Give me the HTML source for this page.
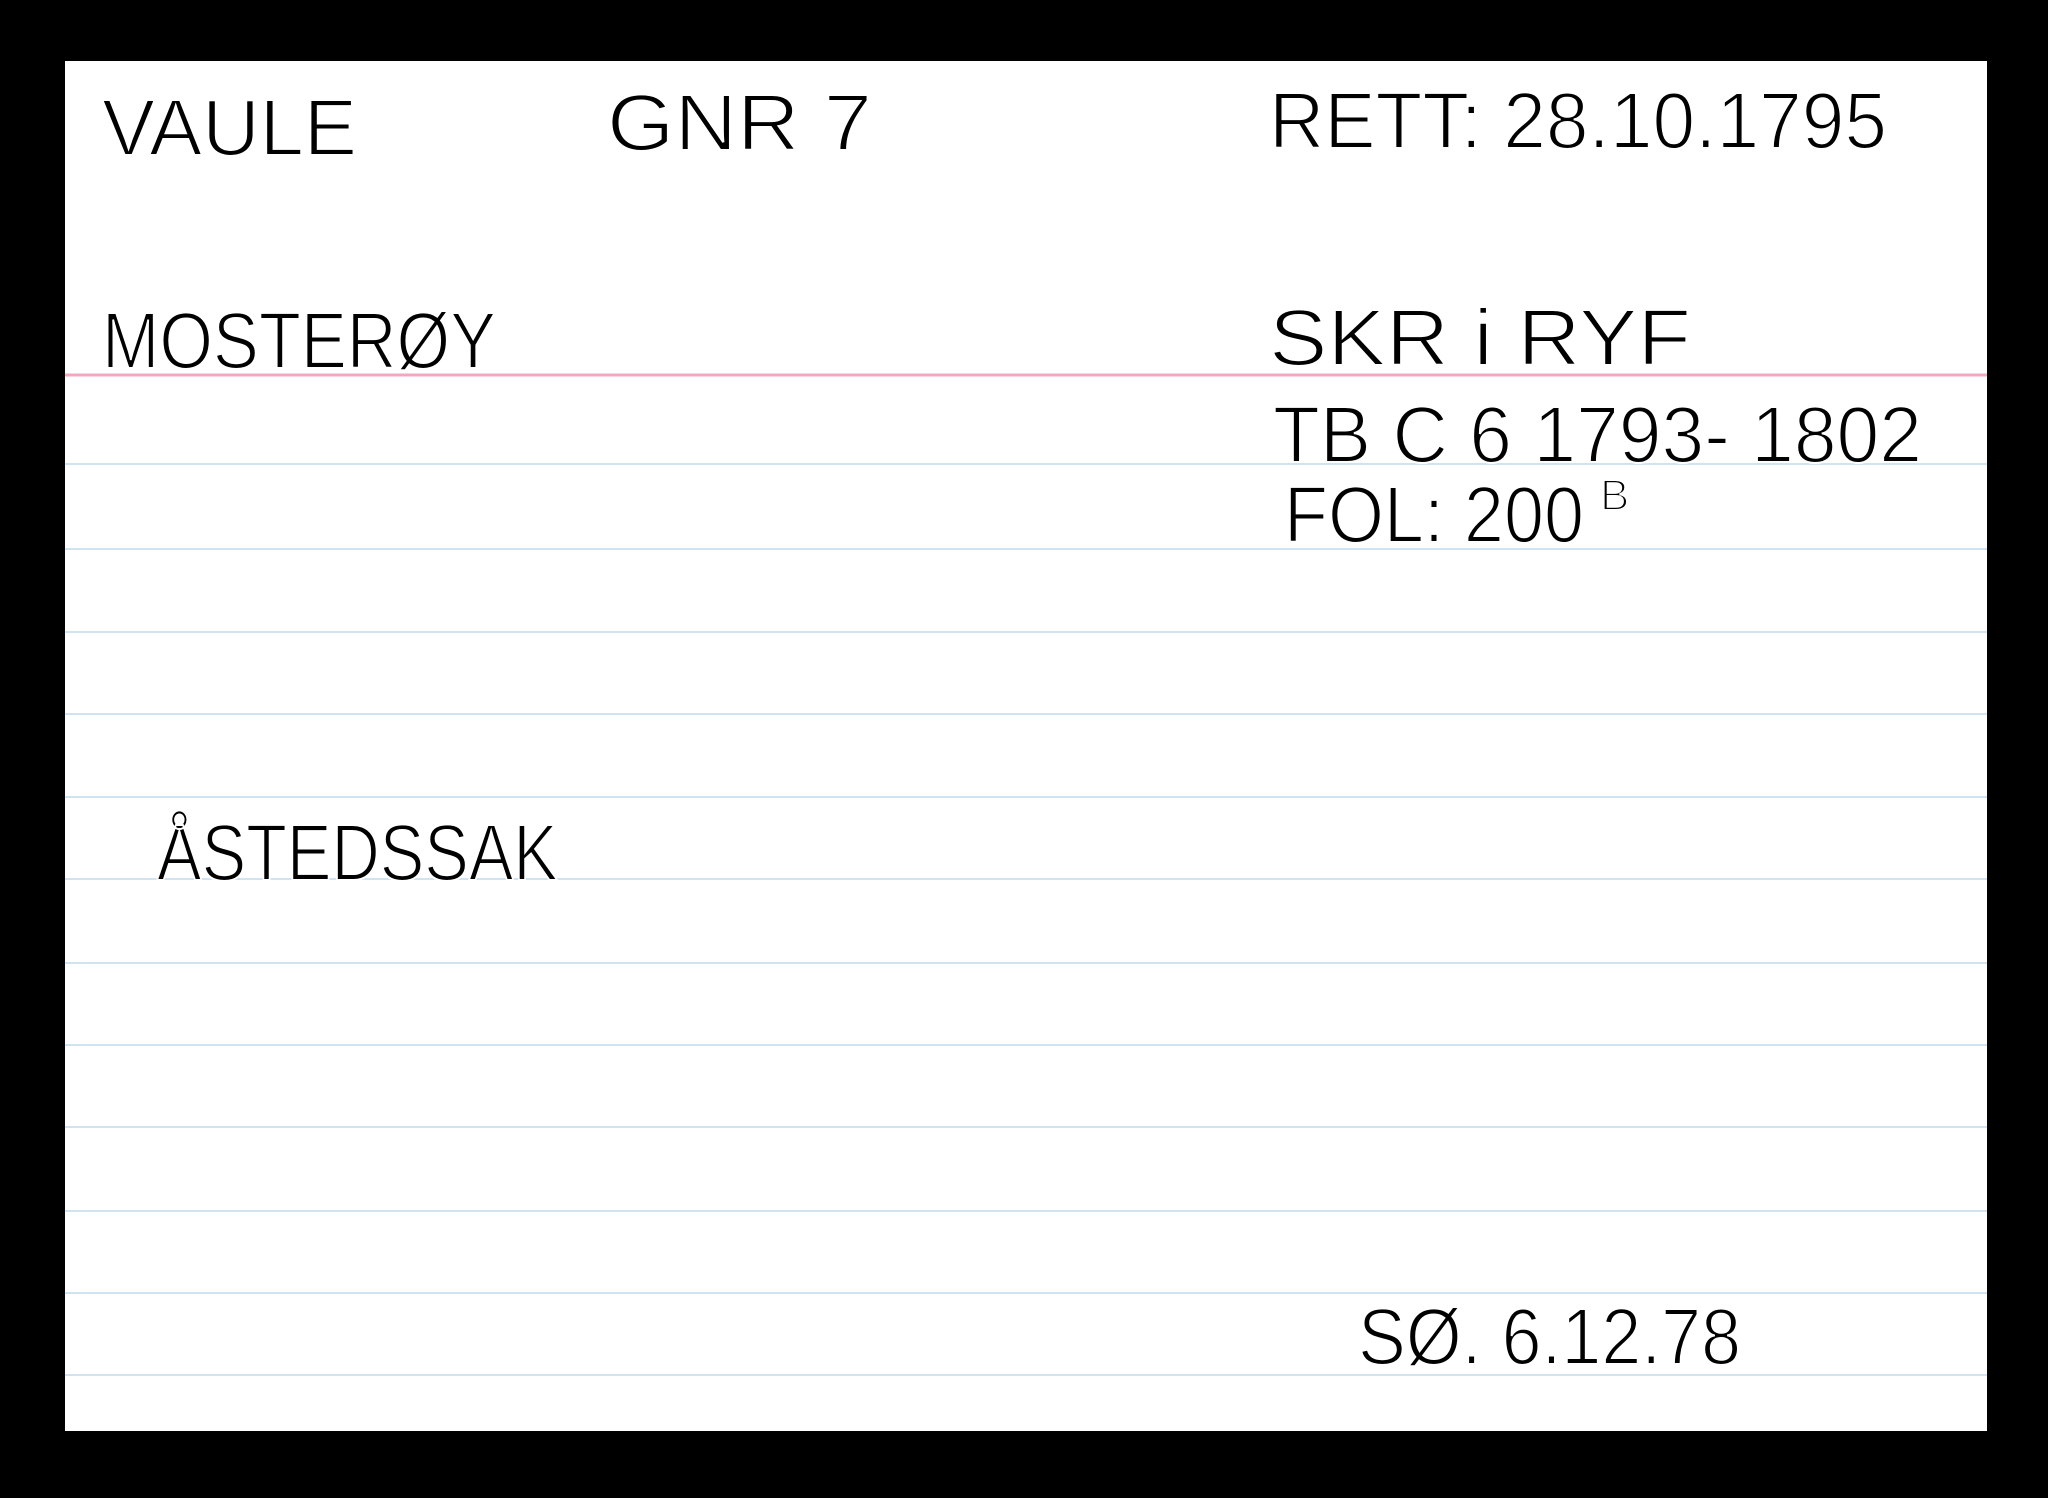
<!DOCTYPE html>
<html><head><meta charset="utf-8"><style>
html,body{margin:0;padding:0;background:#000;}
svg{display:block}
</style></head><body>
<svg width="2048" height="1498" viewBox="0 0 2048 1498" xmlns="http://www.w3.org/2000/svg">
<rect x="0" y="0" width="2048" height="1498" fill="#000"/>
<rect x="65" y="61" width="1922" height="1370" fill="#fff"/>
<g stroke="#cfe3f0" stroke-width="2">
<line x1="65" y1="464" x2="1987" y2="464"/>
<line x1="65" y1="549" x2="1987" y2="549"/>
<line x1="65" y1="632" x2="1987" y2="632"/>
<line x1="65" y1="714" x2="1987" y2="714"/>
<line x1="65" y1="797" x2="1987" y2="797"/>
<line x1="65" y1="879" x2="1987" y2="879"/>
<line x1="65" y1="963" x2="1987" y2="963"/>
<line x1="65" y1="1045" x2="1987" y2="1045"/>
<line x1="65" y1="1127" x2="1987" y2="1127"/>
<line x1="65" y1="1211" x2="1987" y2="1211"/>
<line x1="65" y1="1293" x2="1987" y2="1293"/>
<line x1="65" y1="1375" x2="1987" y2="1375"/>
</g>
<line x1="65" y1="375" x2="1987" y2="375" stroke="#f0a8c0" stroke-width="3"/>
<g font-family="Liberation Sans, sans-serif" fill="#000" font-size="80" stroke="#fff" stroke-width="2">
<text x="102" y="155" textLength="255" lengthAdjust="spacingAndGlyphs">VAULE</text>
<text x="607" y="150" textLength="265" lengthAdjust="spacingAndGlyphs">GNR  7</text>
<text x="1269" y="148" textLength="618" lengthAdjust="spacingAndGlyphs">RETT: 28.10.1795</text>
<text x="102" y="368" textLength="394" lengthAdjust="spacingAndGlyphs">MOSTERØY</text>
<text x="1269" y="365" textLength="422" lengthAdjust="spacingAndGlyphs">SKR  i  RYF</text>
<text x="1273" y="462" textLength="649" lengthAdjust="spacingAndGlyphs">TB C 6 1793- 1802</text>
<text x="1284" y="542" textLength="300" lengthAdjust="spacingAndGlyphs">FOL: 200</text>
<text x="1600" y="510" font-size="44">B</text>
<text x="157" y="880" textLength="401" lengthAdjust="spacingAndGlyphs">ÅSTEDSSAK</text>
<text x="1358" y="1364" textLength="383" lengthAdjust="spacingAndGlyphs">SØ. 6.12.78</text>
</g>
</svg>
</body></html>
